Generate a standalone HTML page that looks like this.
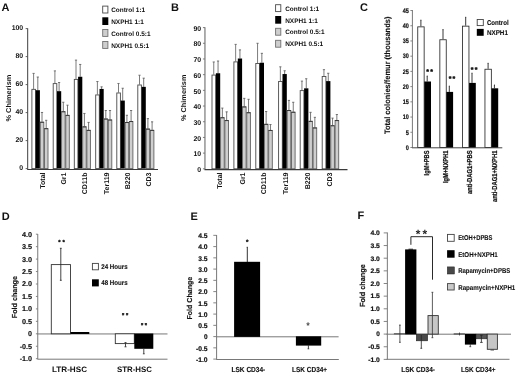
<!DOCTYPE html>
<html><head><meta charset="utf-8"><title>Figure</title>
<style>
html,body{margin:0;padding:0;background:#fff;}
body{width:520px;height:374px;overflow:hidden;font-family:"Liberation Sans",sans-serif;}
svg{display:block;will-change:transform;text-rendering:geometricPrecision;}
</style></head><body>
<svg width="520" height="374" viewBox="0 0 520 374" font-family="Liberation Sans, sans-serif">
<rect x="0" y="0" width="520" height="374" fill="#ffffff"/>
<line x1="33.6" y1="73.4" x2="33.6" y2="88.94" stroke="#5c5c5c" stroke-width="0.8"/>
<line x1="32.5" y1="73.4" x2="34.7" y2="73.4" stroke="#5c5c5c" stroke-width="0.8"/>
<rect x="31.90" y="89.34" width="3.60" height="79.26" fill="#fff" stroke="#4a4a4a" stroke-width="0.9"/>
<line x1="37.800000000000004" y1="77.03999999999999" x2="37.800000000000004" y2="90.2" stroke="#555" stroke-width="0.8"/>
<line x1="36.7" y1="77.03999999999999" x2="38.900000000000006" y2="77.03999999999999" stroke="#555" stroke-width="0.8"/>
<rect x="35.70" y="90.20" width="4.20" height="78.40" fill="#000"/>
<line x1="42.0" y1="112.46" x2="42.0" y2="121.84" stroke="#555" stroke-width="0.8"/>
<line x1="40.9" y1="112.46" x2="43.1" y2="112.46" stroke="#555" stroke-width="0.8"/>
<rect x="40.30" y="122.24" width="3.50" height="46.36" fill="#cfcfcf" stroke="#626262" stroke-width="0.9"/>
<line x1="40.1" y1="122.24000000000001" x2="43.9" y2="122.24000000000001" stroke="#333" stroke-width="0.9"/>
<line x1="46.2" y1="120.3" x2="46.2" y2="128.28" stroke="#555" stroke-width="0.8"/>
<line x1="45.1" y1="120.3" x2="47.300000000000004" y2="120.3" stroke="#555" stroke-width="0.8"/>
<rect x="44.50" y="128.68" width="3.50" height="39.92" fill="#cfcfcf" stroke="#626262" stroke-width="0.9"/>
<line x1="44.300000000000004" y1="128.68" x2="48.1" y2="128.68" stroke="#333" stroke-width="0.9"/>
<line x1="54.9" y1="70.88000000000001" x2="54.9" y2="83.2" stroke="#5c5c5c" stroke-width="0.8"/>
<line x1="53.8" y1="70.88000000000001" x2="56.0" y2="70.88000000000001" stroke="#5c5c5c" stroke-width="0.8"/>
<rect x="53.20" y="83.60" width="3.60" height="85.00" fill="#fff" stroke="#4a4a4a" stroke-width="0.9"/>
<line x1="59.1" y1="82.5" x2="59.1" y2="91.18" stroke="#555" stroke-width="0.8"/>
<line x1="58.0" y1="82.5" x2="60.2" y2="82.5" stroke="#555" stroke-width="0.8"/>
<rect x="57.00" y="91.18" width="4.20" height="77.42" fill="#000"/>
<line x1="63.3" y1="102.24" x2="63.3" y2="111.34" stroke="#555" stroke-width="0.8"/>
<line x1="62.199999999999996" y1="102.24" x2="64.39999999999999" y2="102.24" stroke="#555" stroke-width="0.8"/>
<rect x="61.60" y="111.74" width="3.50" height="56.86" fill="#cfcfcf" stroke="#626262" stroke-width="0.9"/>
<line x1="61.4" y1="111.74000000000001" x2="65.19999999999999" y2="111.74000000000001" stroke="#333" stroke-width="0.9"/>
<line x1="67.5" y1="105.18" x2="67.5" y2="114.98" stroke="#555" stroke-width="0.8"/>
<line x1="66.4" y1="105.18" x2="68.6" y2="105.18" stroke="#555" stroke-width="0.8"/>
<rect x="65.80" y="115.38" width="3.50" height="53.22" fill="#cfcfcf" stroke="#626262" stroke-width="0.9"/>
<line x1="65.60000000000001" y1="115.38000000000001" x2="69.4" y2="115.38000000000001" stroke="#333" stroke-width="0.9"/>
<line x1="76.0" y1="60.099999999999994" x2="76.0" y2="79.0" stroke="#5c5c5c" stroke-width="0.8"/>
<line x1="74.9" y1="60.099999999999994" x2="77.1" y2="60.099999999999994" stroke="#5c5c5c" stroke-width="0.8"/>
<rect x="74.30" y="79.40" width="3.60" height="89.20" fill="#fff" stroke="#4a4a4a" stroke-width="0.9"/>
<line x1="80.2" y1="64.44" x2="80.2" y2="76.76" stroke="#555" stroke-width="0.8"/>
<line x1="79.10000000000001" y1="64.44" x2="81.3" y2="64.44" stroke="#555" stroke-width="0.8"/>
<rect x="78.10" y="76.76" width="4.20" height="91.84" fill="#000"/>
<line x1="84.4" y1="113.44" x2="84.4" y2="126.46" stroke="#555" stroke-width="0.8"/>
<line x1="83.30000000000001" y1="113.44" x2="85.5" y2="113.44" stroke="#555" stroke-width="0.8"/>
<rect x="82.70" y="126.86" width="3.50" height="41.74" fill="#cfcfcf" stroke="#626262" stroke-width="0.9"/>
<line x1="82.50000000000001" y1="126.86" x2="86.30000000000001" y2="126.86" stroke="#333" stroke-width="0.9"/>
<line x1="88.6" y1="122.4" x2="88.6" y2="129.95999999999998" stroke="#555" stroke-width="0.8"/>
<line x1="87.5" y1="122.4" x2="89.69999999999999" y2="122.4" stroke="#555" stroke-width="0.8"/>
<rect x="86.90" y="130.36" width="3.50" height="38.24" fill="#cfcfcf" stroke="#626262" stroke-width="0.9"/>
<line x1="86.7" y1="130.35999999999999" x2="90.5" y2="130.35999999999999" stroke="#333" stroke-width="0.9"/>
<line x1="97.39999999999999" y1="81.52" x2="97.39999999999999" y2="94.54" stroke="#5c5c5c" stroke-width="0.8"/>
<line x1="96.3" y1="81.52" x2="98.49999999999999" y2="81.52" stroke="#5c5c5c" stroke-width="0.8"/>
<rect x="95.70" y="94.94" width="3.60" height="73.66" fill="#fff" stroke="#4a4a4a" stroke-width="0.9"/>
<line x1="101.6" y1="86.84" x2="101.6" y2="88.94" stroke="#555" stroke-width="0.8"/>
<line x1="100.5" y1="86.84" x2="102.69999999999999" y2="86.84" stroke="#555" stroke-width="0.8"/>
<rect x="99.50" y="88.94" width="4.20" height="79.66" fill="#000"/>
<line x1="105.8" y1="110.5" x2="105.8" y2="118.61999999999999" stroke="#555" stroke-width="0.8"/>
<line x1="104.7" y1="110.5" x2="106.89999999999999" y2="110.5" stroke="#555" stroke-width="0.8"/>
<rect x="104.10" y="119.02" width="3.50" height="49.58" fill="#cfcfcf" stroke="#626262" stroke-width="0.9"/>
<line x1="103.9" y1="119.02" x2="107.7" y2="119.02" stroke="#333" stroke-width="0.9"/>
<line x1="110.0" y1="110.5" x2="110.0" y2="119.6" stroke="#555" stroke-width="0.8"/>
<line x1="108.9" y1="110.5" x2="111.1" y2="110.5" stroke="#555" stroke-width="0.8"/>
<rect x="108.30" y="120.00" width="3.50" height="48.60" fill="#cfcfcf" stroke="#626262" stroke-width="0.9"/>
<line x1="108.10000000000001" y1="120.0" x2="111.9" y2="120.0" stroke="#333" stroke-width="0.9"/>
<line x1="118.5" y1="83.48" x2="118.5" y2="92.58" stroke="#5c5c5c" stroke-width="0.8"/>
<line x1="117.4" y1="83.48" x2="119.6" y2="83.48" stroke="#5c5c5c" stroke-width="0.8"/>
<rect x="116.80" y="92.98" width="3.60" height="75.62" fill="#fff" stroke="#4a4a4a" stroke-width="0.9"/>
<line x1="122.7" y1="88.24" x2="122.7" y2="100.56" stroke="#555" stroke-width="0.8"/>
<line x1="121.60000000000001" y1="88.24" x2="123.8" y2="88.24" stroke="#555" stroke-width="0.8"/>
<rect x="120.60" y="100.56" width="4.20" height="68.04" fill="#000"/>
<line x1="126.9" y1="115.25999999999999" x2="126.9" y2="122.11999999999999" stroke="#555" stroke-width="0.8"/>
<line x1="125.80000000000001" y1="115.25999999999999" x2="128.0" y2="115.25999999999999" stroke="#555" stroke-width="0.8"/>
<rect x="125.20" y="122.52" width="3.50" height="46.08" fill="#cfcfcf" stroke="#626262" stroke-width="0.9"/>
<line x1="125.00000000000001" y1="122.52" x2="128.8" y2="122.52" stroke="#333" stroke-width="0.9"/>
<line x1="131.1" y1="110.5" x2="131.1" y2="121.14" stroke="#555" stroke-width="0.8"/>
<line x1="130.0" y1="110.5" x2="132.2" y2="110.5" stroke="#555" stroke-width="0.8"/>
<rect x="129.40" y="121.54" width="3.50" height="47.06" fill="#cfcfcf" stroke="#626262" stroke-width="0.9"/>
<line x1="129.2" y1="121.54" x2="133.0" y2="121.54" stroke="#333" stroke-width="0.9"/>
<line x1="139.5" y1="75.22" x2="139.5" y2="84.6" stroke="#5c5c5c" stroke-width="0.8"/>
<line x1="138.4" y1="75.22" x2="140.6" y2="75.22" stroke="#5c5c5c" stroke-width="0.8"/>
<rect x="137.80" y="85.00" width="3.60" height="83.60" fill="#fff" stroke="#4a4a4a" stroke-width="0.9"/>
<line x1="143.7" y1="78.16000000000001" x2="143.7" y2="86.84" stroke="#555" stroke-width="0.8"/>
<line x1="142.6" y1="78.16000000000001" x2="144.79999999999998" y2="78.16000000000001" stroke="#555" stroke-width="0.8"/>
<rect x="141.60" y="86.84" width="4.20" height="81.76" fill="#000"/>
<line x1="147.9" y1="118.61999999999999" x2="147.9" y2="128.7" stroke="#555" stroke-width="0.8"/>
<line x1="146.8" y1="118.61999999999999" x2="149.0" y2="118.61999999999999" stroke="#555" stroke-width="0.8"/>
<rect x="146.20" y="129.10" width="3.50" height="39.50" fill="#cfcfcf" stroke="#626262" stroke-width="0.9"/>
<line x1="146.0" y1="129.1" x2="149.8" y2="129.1" stroke="#333" stroke-width="0.9"/>
<line x1="152.1" y1="121.84" x2="152.1" y2="129.95999999999998" stroke="#555" stroke-width="0.8"/>
<line x1="151.0" y1="121.84" x2="153.2" y2="121.84" stroke="#555" stroke-width="0.8"/>
<rect x="150.40" y="130.36" width="3.50" height="38.24" fill="#cfcfcf" stroke="#626262" stroke-width="0.9"/>
<line x1="150.2" y1="130.35999999999999" x2="154.0" y2="130.35999999999999" stroke="#333" stroke-width="0.9"/>
<line x1="27.65" y1="28.3" x2="27.65" y2="169.1" stroke="#505050" stroke-width="1.1"/>
<line x1="27.15" y1="169.5" x2="158" y2="169.5" stroke="#3a3a3a" stroke-width="1.2"/>
<line x1="25.65" y1="168.6" x2="27.65" y2="168.6" stroke="#505050" stroke-width="0.9"/>
<text x="23.2" y="170.29999999999998" font-size="6.9" font-weight="bold" text-anchor="end" fill="#111" >0</text>
<line x1="25.65" y1="140.6" x2="27.65" y2="140.6" stroke="#505050" stroke-width="0.9"/>
<text x="23.2" y="142.29999999999998" font-size="6.9" font-weight="bold" text-anchor="end" fill="#111" >20</text>
<line x1="25.65" y1="112.6" x2="27.65" y2="112.6" stroke="#505050" stroke-width="0.9"/>
<text x="23.2" y="114.3" font-size="6.9" font-weight="bold" text-anchor="end" fill="#111" >40</text>
<line x1="25.65" y1="84.6" x2="27.65" y2="84.6" stroke="#505050" stroke-width="0.9"/>
<text x="23.2" y="86.3" font-size="6.9" font-weight="bold" text-anchor="end" fill="#111" >60</text>
<line x1="25.65" y1="56.599999999999994" x2="27.65" y2="56.599999999999994" stroke="#505050" stroke-width="0.9"/>
<text x="23.2" y="58.3" font-size="6.9" font-weight="bold" text-anchor="end" fill="#111" >80</text>
<line x1="25.65" y1="28.599999999999994" x2="27.65" y2="28.599999999999994" stroke="#505050" stroke-width="0.9"/>
<text x="23.2" y="30.299999999999994" font-size="6.9" font-weight="bold" text-anchor="end" fill="#111" >100</text>
<text x="44.7" y="172.5" font-size="7" font-weight="bold" text-anchor="end" fill="#111" transform="rotate(-90 44.7 172.5)" >Total</text>
<text x="65.9" y="172.5" font-size="7" font-weight="bold" text-anchor="end" fill="#111" transform="rotate(-90 65.9 172.5)" >Gr1</text>
<text x="87.2" y="172.5" font-size="7" font-weight="bold" text-anchor="end" fill="#111" transform="rotate(-90 87.2 172.5)" >CD11b</text>
<text x="108.6" y="172.5" font-size="7" font-weight="bold" text-anchor="end" fill="#111" transform="rotate(-90 108.6 172.5)" >Ter119</text>
<text x="129.9" y="172.5" font-size="7" font-weight="bold" text-anchor="end" fill="#111" transform="rotate(-90 129.9 172.5)" >B220</text>
<text x="150.9" y="172.5" font-size="7" font-weight="bold" text-anchor="end" fill="#111" transform="rotate(-90 150.9 172.5)" >CD3</text>
<text x="11.0" y="121.6" font-size="7" font-weight="bold" text-anchor="start" fill="#111" textLength="47" lengthAdjust="spacingAndGlyphs" transform="rotate(-90 11.0 121.6)" >% Chimerism</text>
<line x1="213.75" y1="61.95866666666667" x2="213.75" y2="74.66666666666667" stroke="#5c5c5c" stroke-width="0.8"/>
<line x1="212.65" y1="61.95866666666667" x2="214.85" y2="61.95866666666667" stroke="#5c5c5c" stroke-width="0.8"/>
<rect x="212.00" y="75.07" width="3.70" height="93.73" fill="#fff" stroke="#4a4a4a" stroke-width="0.9"/>
<line x1="218.05" y1="61.017333333333326" x2="218.05" y2="73.25466666666668" stroke="#555" stroke-width="0.8"/>
<line x1="216.95000000000002" y1="61.017333333333326" x2="219.15" y2="61.017333333333326" stroke="#555" stroke-width="0.8"/>
<rect x="215.90" y="73.25" width="4.30" height="95.55" fill="#000"/>
<line x1="222.35" y1="108.084" x2="222.35" y2="117.34044444444446" stroke="#555" stroke-width="0.8"/>
<line x1="221.25" y1="108.084" x2="223.45" y2="108.084" stroke="#555" stroke-width="0.8"/>
<rect x="220.60" y="117.74" width="3.60" height="51.06" fill="#cfcfcf" stroke="#626262" stroke-width="0.9"/>
<line x1="220.39999999999998" y1="117.74044444444446" x2="224.3" y2="117.74044444444446" stroke="#333" stroke-width="0.9"/>
<line x1="226.65" y1="111.84933333333335" x2="226.65" y2="120.16444444444446" stroke="#555" stroke-width="0.8"/>
<line x1="225.55" y1="111.84933333333335" x2="227.75" y2="111.84933333333335" stroke="#555" stroke-width="0.8"/>
<rect x="224.90" y="120.56" width="3.60" height="48.24" fill="#cfcfcf" stroke="#626262" stroke-width="0.9"/>
<line x1="224.7" y1="120.56444444444446" x2="228.60000000000002" y2="120.56444444444446" stroke="#333" stroke-width="0.9"/>
<line x1="235.65" y1="44.387111111111125" x2="235.65" y2="61.488" stroke="#5c5c5c" stroke-width="0.8"/>
<line x1="234.55" y1="44.387111111111125" x2="236.75" y2="44.387111111111125" stroke="#5c5c5c" stroke-width="0.8"/>
<rect x="233.90" y="61.89" width="3.70" height="106.91" fill="#fff" stroke="#4a4a4a" stroke-width="0.9"/>
<line x1="239.95000000000002" y1="49.878222222222234" x2="239.95000000000002" y2="58.507111111111115" stroke="#555" stroke-width="0.8"/>
<line x1="238.85000000000002" y1="49.878222222222234" x2="241.05" y2="49.878222222222234" stroke="#555" stroke-width="0.8"/>
<rect x="237.80" y="58.51" width="4.30" height="110.29" fill="#000"/>
<line x1="244.25" y1="98.3568888888889" x2="244.25" y2="106.51511111111111" stroke="#555" stroke-width="0.8"/>
<line x1="243.15" y1="98.3568888888889" x2="245.35" y2="98.3568888888889" stroke="#555" stroke-width="0.8"/>
<rect x="242.50" y="106.92" width="3.60" height="61.88" fill="#cfcfcf" stroke="#626262" stroke-width="0.9"/>
<line x1="242.29999999999998" y1="106.91511111111112" x2="246.20000000000002" y2="106.91511111111112" stroke="#333" stroke-width="0.9"/>
<line x1="248.55" y1="99.29822222222224" x2="248.55" y2="112.32000000000001" stroke="#555" stroke-width="0.8"/>
<line x1="247.45000000000002" y1="99.29822222222224" x2="249.65" y2="99.29822222222224" stroke="#555" stroke-width="0.8"/>
<rect x="246.80" y="112.72" width="3.60" height="56.08" fill="#cfcfcf" stroke="#626262" stroke-width="0.9"/>
<line x1="246.6" y1="112.72000000000001" x2="250.50000000000003" y2="112.72000000000001" stroke="#333" stroke-width="0.9"/>
<line x1="257.55" y1="43.28888888888889" x2="257.55" y2="63.05688888888888" stroke="#5c5c5c" stroke-width="0.8"/>
<line x1="256.45" y1="43.28888888888889" x2="258.65000000000003" y2="43.28888888888889" stroke="#5c5c5c" stroke-width="0.8"/>
<rect x="255.80" y="63.46" width="3.70" height="105.34" fill="#fff" stroke="#4a4a4a" stroke-width="0.9"/>
<line x1="261.84999999999997" y1="53.32977777777779" x2="261.84999999999997" y2="62.74311111111112" stroke="#555" stroke-width="0.8"/>
<line x1="260.74999999999994" y1="53.32977777777779" x2="262.95" y2="53.32977777777779" stroke="#555" stroke-width="0.8"/>
<rect x="259.70" y="62.74" width="4.30" height="106.06" fill="#000"/>
<line x1="266.15" y1="111.53555555555556" x2="266.15" y2="123.92977777777779" stroke="#555" stroke-width="0.8"/>
<line x1="265.04999999999995" y1="111.53555555555556" x2="267.25" y2="111.53555555555556" stroke="#555" stroke-width="0.8"/>
<rect x="264.40" y="124.33" width="3.60" height="44.47" fill="#cfcfcf" stroke="#626262" stroke-width="0.9"/>
<line x1="264.2" y1="124.32977777777779" x2="268.1" y2="124.32977777777779" stroke="#333" stroke-width="0.9"/>
<line x1="270.45" y1="124.55733333333333" x2="270.45" y2="130.04844444444444" stroke="#555" stroke-width="0.8"/>
<line x1="269.34999999999997" y1="124.55733333333333" x2="271.55" y2="124.55733333333333" stroke="#555" stroke-width="0.8"/>
<rect x="268.70" y="130.45" width="3.60" height="38.35" fill="#cfcfcf" stroke="#626262" stroke-width="0.9"/>
<line x1="268.5" y1="130.44844444444445" x2="272.40000000000003" y2="130.44844444444445" stroke="#333" stroke-width="0.9"/>
<line x1="280.34999999999997" y1="66.82222222222222" x2="280.34999999999997" y2="81.09911111111111" stroke="#5c5c5c" stroke-width="0.8"/>
<line x1="279.24999999999994" y1="66.82222222222222" x2="281.45" y2="66.82222222222222" stroke="#5c5c5c" stroke-width="0.8"/>
<rect x="278.60" y="81.50" width="3.70" height="87.30" fill="#fff" stroke="#4a4a4a" stroke-width="0.9"/>
<line x1="284.65" y1="70.74444444444445" x2="284.65" y2="74.03911111111111" stroke="#555" stroke-width="0.8"/>
<line x1="283.54999999999995" y1="70.74444444444445" x2="285.75" y2="70.74444444444445" stroke="#555" stroke-width="0.8"/>
<rect x="282.50" y="74.04" width="4.30" height="94.76" fill="#000"/>
<line x1="288.95" y1="100.39644444444446" x2="288.95" y2="110.12355555555555" stroke="#555" stroke-width="0.8"/>
<line x1="287.84999999999997" y1="100.39644444444446" x2="290.05" y2="100.39644444444446" stroke="#555" stroke-width="0.8"/>
<rect x="287.20" y="110.52" width="3.60" height="58.28" fill="#cfcfcf" stroke="#626262" stroke-width="0.9"/>
<line x1="287.0" y1="110.52355555555556" x2="290.90000000000003" y2="110.52355555555556" stroke="#333" stroke-width="0.9"/>
<line x1="293.24999999999994" y1="102.27911111111112" x2="293.24999999999994" y2="111.84933333333335" stroke="#555" stroke-width="0.8"/>
<line x1="292.1499999999999" y1="102.27911111111112" x2="294.34999999999997" y2="102.27911111111112" stroke="#555" stroke-width="0.8"/>
<rect x="291.50" y="112.25" width="3.60" height="56.55" fill="#cfcfcf" stroke="#626262" stroke-width="0.9"/>
<line x1="291.29999999999995" y1="112.24933333333335" x2="295.2" y2="112.24933333333335" stroke="#333" stroke-width="0.9"/>
<line x1="301.95" y1="81.09911111111111" x2="301.95" y2="90.19866666666667" stroke="#5c5c5c" stroke-width="0.8"/>
<line x1="300.84999999999997" y1="81.09911111111111" x2="303.05" y2="81.09911111111111" stroke="#5c5c5c" stroke-width="0.8"/>
<rect x="300.20" y="90.60" width="3.70" height="78.20" fill="#fff" stroke="#4a4a4a" stroke-width="0.9"/>
<line x1="306.25" y1="78.74577777777779" x2="306.25" y2="88.31600000000002" stroke="#555" stroke-width="0.8"/>
<line x1="305.15" y1="78.74577777777779" x2="307.35" y2="78.74577777777779" stroke="#555" stroke-width="0.8"/>
<rect x="304.10" y="88.32" width="4.30" height="80.48" fill="#000"/>
<line x1="310.55" y1="112.32000000000001" x2="310.55" y2="120.94888888888889" stroke="#555" stroke-width="0.8"/>
<line x1="309.45" y1="112.32000000000001" x2="311.65000000000003" y2="112.32000000000001" stroke="#555" stroke-width="0.8"/>
<rect x="308.80" y="121.35" width="3.60" height="47.45" fill="#cfcfcf" stroke="#626262" stroke-width="0.9"/>
<line x1="308.6" y1="121.3488888888889" x2="312.50000000000006" y2="121.3488888888889" stroke="#333" stroke-width="0.9"/>
<line x1="314.84999999999997" y1="117.34044444444446" x2="314.84999999999997" y2="127.53822222222223" stroke="#555" stroke-width="0.8"/>
<line x1="313.74999999999994" y1="117.34044444444446" x2="315.95" y2="117.34044444444446" stroke="#555" stroke-width="0.8"/>
<rect x="313.10" y="127.94" width="3.60" height="40.86" fill="#cfcfcf" stroke="#626262" stroke-width="0.9"/>
<line x1="312.9" y1="127.93822222222224" x2="316.8" y2="127.93822222222224" stroke="#333" stroke-width="0.9"/>
<line x1="323.95" y1="69.64622222222222" x2="323.95" y2="76.07866666666666" stroke="#5c5c5c" stroke-width="0.8"/>
<line x1="322.84999999999997" y1="69.64622222222222" x2="325.05" y2="69.64622222222222" stroke="#5c5c5c" stroke-width="0.8"/>
<rect x="322.20" y="76.48" width="3.70" height="92.32" fill="#fff" stroke="#4a4a4a" stroke-width="0.9"/>
<line x1="328.25" y1="73.25466666666668" x2="328.25" y2="81.09911111111111" stroke="#555" stroke-width="0.8"/>
<line x1="327.15" y1="73.25466666666668" x2="329.35" y2="73.25466666666668" stroke="#555" stroke-width="0.8"/>
<rect x="326.10" y="81.10" width="4.30" height="87.70" fill="#000"/>
<line x1="332.55" y1="118.1248888888889" x2="332.55" y2="125.34177777777779" stroke="#555" stroke-width="0.8"/>
<line x1="331.45" y1="118.1248888888889" x2="333.65000000000003" y2="118.1248888888889" stroke="#555" stroke-width="0.8"/>
<rect x="330.80" y="125.74" width="3.60" height="43.06" fill="#cfcfcf" stroke="#626262" stroke-width="0.9"/>
<line x1="330.6" y1="125.7417777777778" x2="334.50000000000006" y2="125.7417777777778" stroke="#333" stroke-width="0.9"/>
<line x1="336.84999999999997" y1="114.51644444444446" x2="336.84999999999997" y2="120.16444444444446" stroke="#555" stroke-width="0.8"/>
<line x1="335.74999999999994" y1="114.51644444444446" x2="337.95" y2="114.51644444444446" stroke="#555" stroke-width="0.8"/>
<rect x="335.10" y="120.56" width="3.60" height="48.24" fill="#cfcfcf" stroke="#626262" stroke-width="0.9"/>
<line x1="334.9" y1="120.56444444444446" x2="338.8" y2="120.56444444444446" stroke="#333" stroke-width="0.9"/>
<line x1="204.95" y1="27.3" x2="204.95" y2="169.3" stroke="#727272" stroke-width="1.15"/>
<line x1="204.45" y1="169.70000000000002" x2="347.5" y2="169.70000000000002" stroke="#3a3a3a" stroke-width="1.2"/>
<line x1="202.95" y1="168.8" x2="204.95" y2="168.8" stroke="#727272" stroke-width="0.9"/>
<text x="201.2" y="171.95000000000002" font-size="6.9" font-weight="bold" text-anchor="end" fill="#111" >0</text>
<line x1="202.95" y1="153.11111111111111" x2="204.95" y2="153.11111111111111" stroke="#727272" stroke-width="0.9"/>
<text x="201.2" y="156.26111111111112" font-size="6.9" font-weight="bold" text-anchor="end" fill="#111" >10</text>
<line x1="202.95" y1="137.42222222222222" x2="204.95" y2="137.42222222222222" stroke="#727272" stroke-width="0.9"/>
<text x="201.2" y="140.57222222222222" font-size="6.9" font-weight="bold" text-anchor="end" fill="#111" >20</text>
<line x1="202.95" y1="121.73333333333335" x2="204.95" y2="121.73333333333335" stroke="#727272" stroke-width="0.9"/>
<text x="201.2" y="124.88333333333335" font-size="6.9" font-weight="bold" text-anchor="end" fill="#111" >30</text>
<line x1="202.95" y1="106.04444444444445" x2="204.95" y2="106.04444444444445" stroke="#727272" stroke-width="0.9"/>
<text x="201.2" y="109.19444444444446" font-size="6.9" font-weight="bold" text-anchor="end" fill="#111" >40</text>
<line x1="202.95" y1="90.35555555555555" x2="204.95" y2="90.35555555555555" stroke="#727272" stroke-width="0.9"/>
<text x="201.2" y="93.50555555555556" font-size="6.9" font-weight="bold" text-anchor="end" fill="#111" >50</text>
<line x1="202.95" y1="74.66666666666667" x2="204.95" y2="74.66666666666667" stroke="#727272" stroke-width="0.9"/>
<text x="201.2" y="77.81666666666668" font-size="6.9" font-weight="bold" text-anchor="end" fill="#111" >60</text>
<line x1="202.95" y1="58.97777777777779" x2="204.95" y2="58.97777777777779" stroke="#727272" stroke-width="0.9"/>
<text x="201.2" y="62.12777777777779" font-size="6.9" font-weight="bold" text-anchor="end" fill="#111" >70</text>
<line x1="202.95" y1="43.28888888888889" x2="204.95" y2="43.28888888888889" stroke="#727272" stroke-width="0.9"/>
<text x="201.2" y="46.43888888888889" font-size="6.9" font-weight="bold" text-anchor="end" fill="#111" >80</text>
<line x1="202.95" y1="27.599999999999994" x2="204.95" y2="27.599999999999994" stroke="#727272" stroke-width="0.9"/>
<text x="201.2" y="30.749999999999993" font-size="6.9" font-weight="bold" text-anchor="end" fill="#111" >90</text>
<text x="222.0" y="172.5" font-size="7" font-weight="bold" text-anchor="end" fill="#111" transform="rotate(-90 222.0 172.5)" >Total</text>
<text x="245.0" y="172.5" font-size="7" font-weight="bold" text-anchor="end" fill="#111" transform="rotate(-90 245.0 172.5)" >Gr1</text>
<text x="265.8" y="172.5" font-size="7" font-weight="bold" text-anchor="end" fill="#111" transform="rotate(-90 265.8 172.5)" >CD11b</text>
<text x="287.6" y="172.5" font-size="7" font-weight="bold" text-anchor="end" fill="#111" transform="rotate(-90 287.6 172.5)" >Ter119</text>
<text x="310.2" y="172.5" font-size="7" font-weight="bold" text-anchor="end" fill="#111" transform="rotate(-90 310.2 172.5)" >B220</text>
<text x="332.4" y="172.5" font-size="7" font-weight="bold" text-anchor="end" fill="#111" transform="rotate(-90 332.4 172.5)" >CD3</text>
<text x="186.4" y="121.0" font-size="7" font-weight="bold" text-anchor="start" fill="#111" textLength="46.5" lengthAdjust="spacingAndGlyphs" transform="rotate(-90 186.4 121.0)" >% Chimerism</text>
<rect x="102.70" y="6.10" width="5.20" height="6.90" fill="#fff" stroke="#4a4a4a" stroke-width="0.9"/>
<text x="111.2" y="12.2" font-size="6.45" font-weight="bold" text-anchor="start" fill="#111" textLength="34.0" lengthAdjust="spacingAndGlyphs" >Control 1:1</text>
<rect x="102.30" y="17.30" width="6.00" height="7.70" fill="#000"/>
<text x="111.2" y="23.8" font-size="6.45" font-weight="bold" text-anchor="start" fill="#111" textLength="32.6" lengthAdjust="spacingAndGlyphs" >NXPH1 1:1</text>
<rect x="102.70" y="29.50" width="5.20" height="6.90" fill="#cecece" stroke="#707070" stroke-width="0.9"/>
<text x="111.2" y="35.6" font-size="6.45" font-weight="bold" text-anchor="start" fill="#111" textLength="39.3" lengthAdjust="spacingAndGlyphs" >Control 0.5:1</text>
<rect x="102.70" y="41.50" width="5.20" height="6.90" fill="#cecece" stroke="#707070" stroke-width="0.9"/>
<text x="111.2" y="47.6" font-size="6.45" font-weight="bold" text-anchor="start" fill="#111" textLength="38.0" lengthAdjust="spacingAndGlyphs" >NXPH1 0.5:1</text>
<rect x="275.60" y="4.70" width="5.20" height="6.90" fill="#fff" stroke="#4a4a4a" stroke-width="0.9"/>
<text x="285.2" y="10.8" font-size="6.45" font-weight="bold" text-anchor="start" fill="#111" textLength="34.0" lengthAdjust="spacingAndGlyphs" >Control 1:1</text>
<rect x="275.20" y="16.00" width="6.00" height="7.70" fill="#000"/>
<text x="285.2" y="22.5" font-size="6.45" font-weight="bold" text-anchor="start" fill="#111" textLength="32.6" lengthAdjust="spacingAndGlyphs" >NXPH1 1:1</text>
<rect x="275.60" y="28.30" width="5.20" height="6.90" fill="#cecece" stroke="#707070" stroke-width="0.9"/>
<text x="285.2" y="34.4" font-size="6.45" font-weight="bold" text-anchor="start" fill="#111" textLength="39.3" lengthAdjust="spacingAndGlyphs" >Control 0.5:1</text>
<rect x="275.60" y="40.30" width="5.20" height="6.90" fill="#cecece" stroke="#707070" stroke-width="0.9"/>
<text x="285.2" y="46.400000000000006" font-size="6.45" font-weight="bold" text-anchor="start" fill="#111" textLength="38.0" lengthAdjust="spacingAndGlyphs" >NXPH1 0.5:1</text>
<text x="1.6" y="11.3" font-size="11" font-weight="bold" text-anchor="start" fill="#111" >A</text>
<text x="170.9" y="11.2" font-size="11" font-weight="bold" text-anchor="start" fill="#111" >B</text>
<text x="360.1" y="10.9" font-size="11" font-weight="bold" text-anchor="start" fill="#111" >C</text>
<text x="1.8" y="219.5" font-size="11" font-weight="bold" text-anchor="start" fill="#111" >D</text>
<text x="190.6" y="219.5" font-size="11" font-weight="bold" text-anchor="start" fill="#111" >E</text>
<text x="357.4" y="219.2" font-size="11" font-weight="bold" text-anchor="start" fill="#111" >F</text>
<line x1="412.4" y1="10" x2="412.4" y2="147.9" stroke="#787878" stroke-width="1.0"/>
<line x1="412" y1="147.8" x2="502.3" y2="147.8" stroke="#444" stroke-width="1.0"/>
<line x1="410.4" y1="147.5" x2="412.4" y2="147.5" stroke="#787878" stroke-width="0.9"/>
<text x="408.8" y="149.8" font-size="6.6" font-weight="bold" text-anchor="end" fill="#111" textLength="3.1" lengthAdjust="spacingAndGlyphs" stroke="#111" stroke-width="0.2" >0</text>
<line x1="410.4" y1="132.28" x2="412.4" y2="132.28" stroke="#787878" stroke-width="0.9"/>
<text x="408.8" y="134.58" font-size="6.6" font-weight="bold" text-anchor="end" fill="#111" textLength="3.1" lengthAdjust="spacingAndGlyphs" stroke="#111" stroke-width="0.2" >5</text>
<line x1="410.4" y1="117.06" x2="412.4" y2="117.06" stroke="#787878" stroke-width="0.9"/>
<text x="408.8" y="119.36" font-size="6.6" font-weight="bold" text-anchor="end" fill="#111" textLength="6.1" lengthAdjust="spacingAndGlyphs" stroke="#111" stroke-width="0.2" >10</text>
<line x1="410.4" y1="101.84" x2="412.4" y2="101.84" stroke="#787878" stroke-width="0.9"/>
<text x="408.8" y="104.14" font-size="6.6" font-weight="bold" text-anchor="end" fill="#111" textLength="6.1" lengthAdjust="spacingAndGlyphs" stroke="#111" stroke-width="0.2" >15</text>
<line x1="410.4" y1="86.62" x2="412.4" y2="86.62" stroke="#787878" stroke-width="0.9"/>
<text x="408.8" y="88.92" font-size="6.6" font-weight="bold" text-anchor="end" fill="#111" textLength="6.1" lengthAdjust="spacingAndGlyphs" stroke="#111" stroke-width="0.2" >20</text>
<line x1="410.4" y1="71.4" x2="412.4" y2="71.4" stroke="#787878" stroke-width="0.9"/>
<text x="408.8" y="73.7" font-size="6.6" font-weight="bold" text-anchor="end" fill="#111" textLength="6.1" lengthAdjust="spacingAndGlyphs" stroke="#111" stroke-width="0.2" >25</text>
<line x1="410.4" y1="56.17999999999999" x2="412.4" y2="56.17999999999999" stroke="#787878" stroke-width="0.9"/>
<text x="408.8" y="58.47999999999999" font-size="6.6" font-weight="bold" text-anchor="end" fill="#111" textLength="6.1" lengthAdjust="spacingAndGlyphs" stroke="#111" stroke-width="0.2" >30</text>
<line x1="410.4" y1="40.959999999999994" x2="412.4" y2="40.959999999999994" stroke="#787878" stroke-width="0.9"/>
<text x="408.8" y="43.25999999999999" font-size="6.6" font-weight="bold" text-anchor="end" fill="#111" textLength="6.1" lengthAdjust="spacingAndGlyphs" stroke="#111" stroke-width="0.2" >35</text>
<line x1="410.4" y1="25.739999999999995" x2="412.4" y2="25.739999999999995" stroke="#787878" stroke-width="0.9"/>
<text x="408.8" y="28.039999999999996" font-size="6.6" font-weight="bold" text-anchor="end" fill="#111" textLength="6.1" lengthAdjust="spacingAndGlyphs" stroke="#111" stroke-width="0.2" >40</text>
<line x1="410.4" y1="10.52000000000001" x2="412.4" y2="10.52000000000001" stroke="#787878" stroke-width="0.9"/>
<text x="408.8" y="12.820000000000011" font-size="6.6" font-weight="bold" text-anchor="end" fill="#111" textLength="6.1" lengthAdjust="spacingAndGlyphs" stroke="#111" stroke-width="0.2" >45</text>
<line x1="420.90000000000003" y1="20.2" x2="420.90000000000003" y2="26.4" stroke="#222" stroke-width="0.9"/>
<line x1="420.40000000000003" y1="20.2" x2="421.40000000000003" y2="20.2" stroke="#222" stroke-width="0.9"/>
<rect x="417.75" y="26.85" width="6.40" height="120.65" fill="#fff" stroke="#2a2a2a" stroke-width="0.85"/>
<line x1="427.2" y1="76.0" x2="427.2" y2="81.5" stroke="#222" stroke-width="0.9"/>
<line x1="426.8" y1="76.0" x2="427.59999999999997" y2="76.0" stroke="#222" stroke-width="0.9"/>
<rect x="424.30" y="81.50" width="6.70" height="66.00" fill="#000"/>
<text x="427.70" y="73.98" font-size="7.03" font-weight="bold" text-anchor="middle" fill="#111" stroke="#111" stroke-width="0.35">*</text>
<text x="431.50" y="73.98" font-size="7.03" font-weight="bold" text-anchor="middle" fill="#111" stroke="#111" stroke-width="0.35">*</text>
<line x1="443.0" y1="29.6" x2="443.0" y2="39.3" stroke="#222" stroke-width="0.9"/>
<line x1="442.5" y1="29.6" x2="443.5" y2="29.6" stroke="#222" stroke-width="0.9"/>
<rect x="439.85" y="39.75" width="6.40" height="107.75" fill="#fff" stroke="#2a2a2a" stroke-width="0.85"/>
<line x1="449.29999999999995" y1="86.1" x2="449.29999999999995" y2="91.9" stroke="#222" stroke-width="0.9"/>
<line x1="448.9" y1="86.1" x2="449.69999999999993" y2="86.1" stroke="#222" stroke-width="0.9"/>
<rect x="446.40" y="91.90" width="6.70" height="55.60" fill="#000"/>
<text x="450.00" y="80.88" font-size="7.03" font-weight="bold" text-anchor="middle" fill="#111" stroke="#111" stroke-width="0.35">*</text>
<text x="453.80" y="80.88" font-size="7.03" font-weight="bold" text-anchor="middle" fill="#111" stroke="#111" stroke-width="0.35">*</text>
<line x1="465.70000000000005" y1="17.3" x2="465.70000000000005" y2="25.7" stroke="#222" stroke-width="0.9"/>
<line x1="465.20000000000005" y1="17.3" x2="466.20000000000005" y2="17.3" stroke="#222" stroke-width="0.9"/>
<rect x="462.55" y="26.15" width="6.40" height="121.35" fill="#fff" stroke="#2a2a2a" stroke-width="0.85"/>
<line x1="472.0" y1="73.1" x2="472.0" y2="82.9" stroke="#222" stroke-width="0.9"/>
<line x1="471.6" y1="73.1" x2="472.4" y2="73.1" stroke="#222" stroke-width="0.9"/>
<rect x="469.10" y="82.90" width="6.70" height="64.60" fill="#000"/>
<text x="472.10" y="71.98" font-size="7.03" font-weight="bold" text-anchor="middle" fill="#111" stroke="#111" stroke-width="0.35">*</text>
<text x="476.20" y="71.98" font-size="7.03" font-weight="bold" text-anchor="middle" fill="#111" stroke="#111" stroke-width="0.35">*</text>
<line x1="488.1" y1="63.3" x2="488.1" y2="68.8" stroke="#222" stroke-width="0.9"/>
<line x1="487.6" y1="63.3" x2="488.6" y2="63.3" stroke="#222" stroke-width="0.9"/>
<rect x="484.95" y="69.25" width="6.40" height="78.25" fill="#fff" stroke="#2a2a2a" stroke-width="0.85"/>
<line x1="494.4" y1="85.0" x2="494.4" y2="88.3" stroke="#222" stroke-width="0.9"/>
<line x1="494.0" y1="85.0" x2="494.79999999999995" y2="85.0" stroke="#222" stroke-width="0.9"/>
<rect x="491.50" y="88.30" width="6.70" height="59.20" fill="#000"/>
<text x="429.0" y="150.5" font-size="7.2" font-weight="bold" text-anchor="end" fill="#111" textLength="24.9" lengthAdjust="spacingAndGlyphs" transform="rotate(-90 429.0 150.5)" stroke="#111" stroke-width="0.25" >IgM+PBS</text>
<text x="447.9" y="150.5" font-size="7.2" font-weight="bold" text-anchor="end" fill="#111" textLength="32.5" lengthAdjust="spacingAndGlyphs" transform="rotate(-90 447.9 150.5)" stroke="#111" stroke-width="0.25" >IgM+NXPH1</text>
<text x="472.2" y="150.5" font-size="7.2" font-weight="bold" text-anchor="end" fill="#111" textLength="43.6" lengthAdjust="spacingAndGlyphs" transform="rotate(-90 472.2 150.5)" stroke="#111" stroke-width="0.25" >anti-DAG1+PBS</text>
<text x="497.2" y="150.5" font-size="7.2" font-weight="bold" text-anchor="end" fill="#111" textLength="51.6" lengthAdjust="spacingAndGlyphs" transform="rotate(-90 497.2 150.5)" stroke="#111" stroke-width="0.25" >anti-DAG1+NXPH1</text>
<text x="390.2" y="134" font-size="7.9" font-weight="bold" text-anchor="start" fill="#111" textLength="117.4" lengthAdjust="spacingAndGlyphs" transform="rotate(-90 390.2 134)" stroke="#111" stroke-width="0.12" >Total colonies/femur (thousands)</text>
<rect x="477.20" y="19.50" width="6.10" height="6.10" fill="#fff" stroke="#444" stroke-width="0.9"/>
<rect x="476.80" y="28.90" width="6.90" height="6.90" fill="#000"/>
<text x="486.9" y="25.3" font-size="7.0" font-weight="bold" text-anchor="start" fill="#111" textLength="21.7" lengthAdjust="spacingAndGlyphs" stroke="#111" stroke-width="0.12" >Control</text>
<text x="486.9" y="34.9" font-size="7.0" font-weight="bold" text-anchor="start" fill="#111" textLength="21.0" lengthAdjust="spacingAndGlyphs" stroke="#111" stroke-width="0.12" >NXPH1</text>
<line x1="37.75" y1="234" x2="37.75" y2="359.2" stroke="#787878" stroke-width="1.0"/>
<line x1="37.5" y1="333.95" x2="167.5" y2="333.95" stroke="#787878" stroke-width="1.0"/>
<line x1="37.5" y1="359.2" x2="167.5" y2="359.2" stroke="#787878" stroke-width="1.0"/>
<line x1="35.9" y1="358.7" x2="37.75" y2="358.7" stroke="#787878" stroke-width="0.9"/>
<text x="32.1" y="361.15" font-size="7.0" font-weight="bold" text-anchor="end" fill="#111" textLength="12.4" lengthAdjust="spacingAndGlyphs" stroke="#111" stroke-width="0.15" >-1.0</text>
<line x1="35.9" y1="346.25" x2="37.75" y2="346.25" stroke="#787878" stroke-width="0.9"/>
<text x="32.1" y="348.7" font-size="7.0" font-weight="bold" text-anchor="end" fill="#111" textLength="12.4" lengthAdjust="spacingAndGlyphs" stroke="#111" stroke-width="0.15" >-0.5</text>
<line x1="35.9" y1="333.8" x2="37.75" y2="333.8" stroke="#787878" stroke-width="0.9"/>
<text x="32.1" y="336.25" font-size="7.0" font-weight="bold" text-anchor="end" fill="#111" textLength="4.0" lengthAdjust="spacingAndGlyphs" stroke="#111" stroke-width="0.15" >0</text>
<line x1="35.9" y1="321.35" x2="37.75" y2="321.35" stroke="#787878" stroke-width="0.9"/>
<text x="32.1" y="323.8" font-size="7.0" font-weight="bold" text-anchor="end" fill="#111" textLength="10.1" lengthAdjust="spacingAndGlyphs" stroke="#111" stroke-width="0.15" >0.5</text>
<line x1="35.9" y1="308.90000000000003" x2="37.75" y2="308.90000000000003" stroke="#787878" stroke-width="0.9"/>
<text x="32.1" y="311.35" font-size="7.0" font-weight="bold" text-anchor="end" fill="#111" textLength="10.1" lengthAdjust="spacingAndGlyphs" stroke="#111" stroke-width="0.15" >1.0</text>
<line x1="35.9" y1="296.45000000000005" x2="37.75" y2="296.45000000000005" stroke="#787878" stroke-width="0.9"/>
<text x="32.1" y="298.90000000000003" font-size="7.0" font-weight="bold" text-anchor="end" fill="#111" textLength="10.1" lengthAdjust="spacingAndGlyphs" stroke="#111" stroke-width="0.15" >1.5</text>
<line x1="35.9" y1="284.0" x2="37.75" y2="284.0" stroke="#787878" stroke-width="0.9"/>
<text x="32.1" y="286.45" font-size="7.0" font-weight="bold" text-anchor="end" fill="#111" textLength="10.1" lengthAdjust="spacingAndGlyphs" stroke="#111" stroke-width="0.15" >2.0</text>
<line x1="35.9" y1="271.55" x2="37.75" y2="271.55" stroke="#787878" stroke-width="0.9"/>
<text x="32.1" y="274.0" font-size="7.0" font-weight="bold" text-anchor="end" fill="#111" textLength="10.1" lengthAdjust="spacingAndGlyphs" stroke="#111" stroke-width="0.15" >2.5</text>
<line x1="35.9" y1="259.1" x2="37.75" y2="259.1" stroke="#787878" stroke-width="0.9"/>
<text x="32.1" y="261.55" font-size="7.0" font-weight="bold" text-anchor="end" fill="#111" textLength="10.1" lengthAdjust="spacingAndGlyphs" stroke="#111" stroke-width="0.15" >3.0</text>
<line x1="35.9" y1="246.65000000000003" x2="37.75" y2="246.65000000000003" stroke="#787878" stroke-width="0.9"/>
<text x="32.1" y="249.10000000000002" font-size="7.0" font-weight="bold" text-anchor="end" fill="#111" textLength="10.1" lengthAdjust="spacingAndGlyphs" stroke="#111" stroke-width="0.15" >3.5</text>
<line x1="35.9" y1="234.20000000000002" x2="37.75" y2="234.20000000000002" stroke="#787878" stroke-width="0.9"/>
<text x="32.1" y="236.65" font-size="7.0" font-weight="bold" text-anchor="end" fill="#111" textLength="10.1" lengthAdjust="spacingAndGlyphs" stroke="#111" stroke-width="0.15" >4.0</text>
<rect x="51.30" y="264.60" width="19.20" height="69.20" fill="#fff" stroke="#333" stroke-width="0.9"/>
<line x1="60.8" y1="248.3" x2="60.8" y2="280.3" stroke="#222" stroke-width="0.85"/>
<line x1="59.9" y1="248.3" x2="61.699999999999996" y2="248.3" stroke="#222" stroke-width="0.85"/>
<line x1="59.9" y1="280.3" x2="61.699999999999996" y2="280.3" stroke="#222" stroke-width="0.85"/>
<rect x="70.50" y="332.00" width="18.80" height="2.00" fill="#000"/>
<rect x="115.30" y="333.80" width="19.00" height="9.80" fill="#fff" stroke="#333" stroke-width="0.9"/>
<line x1="125.5" y1="346.8" x2="125.5" y2="342.6" stroke="#333" stroke-width="0.9"/>
<line x1="124.5" y1="346.8" x2="126.5" y2="346.8" stroke="#333" stroke-width="0.9"/>
<line x1="124.5" y1="342.6" x2="126.5" y2="342.6" stroke="#333" stroke-width="0.9"/>
<rect x="134.30" y="333.50" width="19.00" height="15.30" fill="#000"/>
<line x1="143.8" y1="353.8" x2="143.8" y2="348" stroke="#333" stroke-width="0.9"/>
<line x1="142.9" y1="353.8" x2="144.70000000000002" y2="353.8" stroke="#333" stroke-width="0.9"/>
<text x="59.50" y="244.23" font-size="5.95" font-weight="bold" text-anchor="middle" fill="#111" stroke="#111" stroke-width="0.35">*</text>
<text x="63.60" y="244.23" font-size="5.95" font-weight="bold" text-anchor="middle" fill="#111" stroke="#111" stroke-width="0.35">*</text>
<text x="123.20" y="316.59" font-size="5.68" font-weight="bold" text-anchor="middle" fill="#111" stroke="#111" stroke-width="0.35">*</text>
<text x="127.05" y="316.59" font-size="5.68" font-weight="bold" text-anchor="middle" fill="#111" stroke="#111" stroke-width="0.35">*</text>
<text x="142.00" y="327.39" font-size="5.68" font-weight="bold" text-anchor="middle" fill="#111" stroke="#111" stroke-width="0.35">*</text>
<text x="145.80" y="327.39" font-size="5.68" font-weight="bold" text-anchor="middle" fill="#111" stroke="#111" stroke-width="0.35">*</text>
<text x="52" y="371.7" font-size="7.9" font-weight="bold" text-anchor="start" fill="#111" textLength="35" lengthAdjust="spacingAndGlyphs" >LTR-HSC</text>
<text x="117" y="371.7" font-size="7.9" font-weight="bold" text-anchor="start" fill="#111" textLength="35" lengthAdjust="spacingAndGlyphs" >STR-HSC</text>
<text x="16.6" y="318.2" font-size="7.3" font-weight="bold" text-anchor="start" fill="#111" textLength="42.2" lengthAdjust="spacingAndGlyphs" transform="rotate(-90 16.6 318.2)" stroke="#111" stroke-width="0.15" >Fold change</text>
<rect x="92.40" y="263.40" width="6.00" height="6.40" fill="#fff" stroke="#444" stroke-width="0.9"/>
<rect x="92.00" y="279.30" width="6.80" height="7.10" fill="#000"/>
<text x="101.3" y="268.9" font-size="6.8" font-weight="bold" text-anchor="start" fill="#111" textLength="26.4" lengthAdjust="spacingAndGlyphs" stroke="#111" stroke-width="0.1" >24 Hours</text>
<text x="101.3" y="285.1" font-size="6.8" font-weight="bold" text-anchor="start" fill="#111" textLength="26.4" lengthAdjust="spacingAndGlyphs" stroke="#111" stroke-width="0.1" >48 Hours</text>
<line x1="216.6" y1="235" x2="216.6" y2="359.5" stroke="#787878" stroke-width="1.0"/>
<line x1="216.2" y1="336.8" x2="338.6" y2="336.8" stroke="#787878" stroke-width="1.0"/>
<line x1="216.2" y1="359.5" x2="338.8" y2="359.5" stroke="#787878" stroke-width="1.0"/>
<line x1="213.3" y1="359.1" x2="216.6" y2="359.1" stroke="#787878" stroke-width="0.9"/>
<text x="207.6" y="361.8" font-size="6.7" font-weight="bold" text-anchor="end" fill="#111" textLength="11.6" lengthAdjust="spacingAndGlyphs" stroke="#111" stroke-width="0.2" >-1.0</text>
<line x1="213.3" y1="347.85" x2="216.6" y2="347.85" stroke="#787878" stroke-width="0.9"/>
<text x="207.6" y="350.55" font-size="6.7" font-weight="bold" text-anchor="end" fill="#111" textLength="11.6" lengthAdjust="spacingAndGlyphs" stroke="#111" stroke-width="0.2" >-0.5</text>
<line x1="213.3" y1="336.6" x2="216.6" y2="336.6" stroke="#787878" stroke-width="0.9"/>
<text x="207.6" y="339.3" font-size="6.7" font-weight="bold" text-anchor="end" fill="#111" textLength="3.6" lengthAdjust="spacingAndGlyphs" stroke="#111" stroke-width="0.2" >0</text>
<line x1="213.3" y1="325.35" x2="216.6" y2="325.35" stroke="#787878" stroke-width="0.9"/>
<text x="207.6" y="328.05" font-size="6.7" font-weight="bold" text-anchor="end" fill="#111" textLength="9.4" lengthAdjust="spacingAndGlyphs" stroke="#111" stroke-width="0.2" >0.5</text>
<line x1="213.3" y1="314.1" x2="216.6" y2="314.1" stroke="#787878" stroke-width="0.9"/>
<text x="207.6" y="316.8" font-size="6.7" font-weight="bold" text-anchor="end" fill="#111" textLength="9.4" lengthAdjust="spacingAndGlyphs" stroke="#111" stroke-width="0.2" >1.0</text>
<line x1="213.3" y1="302.85" x2="216.6" y2="302.85" stroke="#787878" stroke-width="0.9"/>
<text x="207.6" y="305.55" font-size="6.7" font-weight="bold" text-anchor="end" fill="#111" textLength="9.4" lengthAdjust="spacingAndGlyphs" stroke="#111" stroke-width="0.2" >1.5</text>
<line x1="213.3" y1="291.6" x2="216.6" y2="291.6" stroke="#787878" stroke-width="0.9"/>
<text x="207.6" y="294.3" font-size="6.7" font-weight="bold" text-anchor="end" fill="#111" textLength="9.4" lengthAdjust="spacingAndGlyphs" stroke="#111" stroke-width="0.2" >2.0</text>
<line x1="213.3" y1="280.35" x2="216.6" y2="280.35" stroke="#787878" stroke-width="0.9"/>
<text x="207.6" y="283.05" font-size="6.7" font-weight="bold" text-anchor="end" fill="#111" textLength="9.4" lengthAdjust="spacingAndGlyphs" stroke="#111" stroke-width="0.2" >2.5</text>
<line x1="213.3" y1="269.1" x2="216.6" y2="269.1" stroke="#787878" stroke-width="0.9"/>
<text x="207.6" y="271.8" font-size="6.7" font-weight="bold" text-anchor="end" fill="#111" textLength="9.4" lengthAdjust="spacingAndGlyphs" stroke="#111" stroke-width="0.2" >3.0</text>
<line x1="213.3" y1="257.85" x2="216.6" y2="257.85" stroke="#787878" stroke-width="0.9"/>
<text x="207.6" y="260.55" font-size="6.7" font-weight="bold" text-anchor="end" fill="#111" textLength="9.4" lengthAdjust="spacingAndGlyphs" stroke="#111" stroke-width="0.2" >3.5</text>
<line x1="213.3" y1="246.60000000000002" x2="216.6" y2="246.60000000000002" stroke="#787878" stroke-width="0.9"/>
<text x="207.6" y="249.3" font-size="6.7" font-weight="bold" text-anchor="end" fill="#111" textLength="9.4" lengthAdjust="spacingAndGlyphs" stroke="#111" stroke-width="0.2" >4.0</text>
<line x1="213.3" y1="235.35000000000002" x2="216.6" y2="235.35000000000002" stroke="#787878" stroke-width="0.9"/>
<text x="207.6" y="238.05" font-size="6.7" font-weight="bold" text-anchor="end" fill="#111" textLength="9.4" lengthAdjust="spacingAndGlyphs" stroke="#111" stroke-width="0.2" >4.5</text>
<line x1="247.3" y1="247.3" x2="247.3" y2="262" stroke="#333" stroke-width="1.0"/>
<line x1="246.70000000000002" y1="247.3" x2="247.9" y2="247.3" stroke="#333" stroke-width="1.0"/>
<rect x="234.10" y="261.80" width="26.00" height="75.10" fill="#000"/>
<rect x="295.90" y="336.30" width="25.30" height="9.30" fill="#000"/>
<line x1="308.4" y1="348.8" x2="308.4" y2="345" stroke="#333" stroke-width="0.9"/>
<line x1="307.59999999999997" y1="348.8" x2="309.2" y2="348.8" stroke="#333" stroke-width="0.9"/>
<text x="247.15" y="244.27" font-size="6.22" font-weight="bold" text-anchor="middle" fill="#111" stroke="#111" stroke-width="0.35">*</text>
<text x="307.90" y="328.30" font-size="7.84" font-weight="bold" text-anchor="middle" fill="#444" stroke="#444" stroke-width="0.15">*</text>
<text x="231.5" y="372.4" font-size="7.3" font-weight="bold" text-anchor="start" fill="#111" textLength="33.8" lengthAdjust="spacingAndGlyphs" stroke="#111" stroke-width="0.12" >LSK CD34-</text>
<text x="292.1" y="372.4" font-size="7.3" font-weight="bold" text-anchor="start" fill="#111" textLength="35.0" lengthAdjust="spacingAndGlyphs" stroke="#111" stroke-width="0.12" >LSK CD34+</text>
<text x="192.3" y="319.6" font-size="7.2" font-weight="bold" text-anchor="start" fill="#111" textLength="42.9" lengthAdjust="spacingAndGlyphs" transform="rotate(-90 192.3 319.6)" stroke="#111" stroke-width="0.15" >Fold Change</text>
<line x1="387.35" y1="232.5" x2="387.35" y2="359.3" stroke="#787878" stroke-width="1.0"/>
<line x1="386.5" y1="334.20000000000005" x2="511.0" y2="334.20000000000005" stroke="#787878" stroke-width="1.0"/>
<line x1="386.5" y1="359.3" x2="509.5" y2="359.3" stroke="#787878" stroke-width="1.0"/>
<line x1="383.7" y1="359.40000000000003" x2="387.35" y2="359.40000000000003" stroke="#787878" stroke-width="0.9"/>
<text x="379.8" y="361.70000000000005" font-size="6.5" font-weight="bold" text-anchor="end" fill="#111" textLength="11.6" lengthAdjust="spacingAndGlyphs" stroke="#111" stroke-width="0.2" >-1.0</text>
<line x1="383.7" y1="346.75" x2="387.35" y2="346.75" stroke="#787878" stroke-width="0.9"/>
<text x="379.8" y="349.05" font-size="6.5" font-weight="bold" text-anchor="end" fill="#111" textLength="11.6" lengthAdjust="spacingAndGlyphs" stroke="#111" stroke-width="0.2" >-0.5</text>
<line x1="383.7" y1="334.1" x2="387.35" y2="334.1" stroke="#787878" stroke-width="0.9"/>
<text x="379.8" y="336.40000000000003" font-size="6.5" font-weight="bold" text-anchor="end" fill="#111" textLength="3.6" lengthAdjust="spacingAndGlyphs" stroke="#111" stroke-width="0.2" >0</text>
<line x1="383.7" y1="321.45000000000005" x2="387.35" y2="321.45000000000005" stroke="#787878" stroke-width="0.9"/>
<text x="379.8" y="323.75000000000006" font-size="6.5" font-weight="bold" text-anchor="end" fill="#111" textLength="9.4" lengthAdjust="spacingAndGlyphs" stroke="#111" stroke-width="0.2" >0.5</text>
<line x1="383.7" y1="308.8" x2="387.35" y2="308.8" stroke="#787878" stroke-width="0.9"/>
<text x="379.8" y="311.1" font-size="6.5" font-weight="bold" text-anchor="end" fill="#111" textLength="9.4" lengthAdjust="spacingAndGlyphs" stroke="#111" stroke-width="0.2" >1.0</text>
<line x1="383.7" y1="296.15000000000003" x2="387.35" y2="296.15000000000003" stroke="#787878" stroke-width="0.9"/>
<text x="379.8" y="298.45000000000005" font-size="6.5" font-weight="bold" text-anchor="end" fill="#111" textLength="9.4" lengthAdjust="spacingAndGlyphs" stroke="#111" stroke-width="0.2" >1.5</text>
<line x1="383.7" y1="283.5" x2="387.35" y2="283.5" stroke="#787878" stroke-width="0.9"/>
<text x="379.8" y="285.8" font-size="6.5" font-weight="bold" text-anchor="end" fill="#111" textLength="9.4" lengthAdjust="spacingAndGlyphs" stroke="#111" stroke-width="0.2" >2.0</text>
<line x1="383.7" y1="270.85" x2="387.35" y2="270.85" stroke="#787878" stroke-width="0.9"/>
<text x="379.8" y="273.15000000000003" font-size="6.5" font-weight="bold" text-anchor="end" fill="#111" textLength="9.4" lengthAdjust="spacingAndGlyphs" stroke="#111" stroke-width="0.2" >2.5</text>
<line x1="383.7" y1="258.20000000000005" x2="387.35" y2="258.20000000000005" stroke="#787878" stroke-width="0.9"/>
<text x="379.8" y="260.50000000000006" font-size="6.5" font-weight="bold" text-anchor="end" fill="#111" textLength="9.4" lengthAdjust="spacingAndGlyphs" stroke="#111" stroke-width="0.2" >3.0</text>
<line x1="383.7" y1="245.55" x2="387.35" y2="245.55" stroke="#787878" stroke-width="0.9"/>
<text x="379.8" y="247.85000000000002" font-size="6.5" font-weight="bold" text-anchor="end" fill="#111" textLength="9.4" lengthAdjust="spacingAndGlyphs" stroke="#111" stroke-width="0.2" >3.5</text>
<line x1="383.7" y1="232.90000000000003" x2="387.35" y2="232.90000000000003" stroke="#787878" stroke-width="0.9"/>
<text x="379.8" y="235.20000000000005" font-size="6.5" font-weight="bold" text-anchor="end" fill="#111" textLength="9.4" lengthAdjust="spacingAndGlyphs" stroke="#111" stroke-width="0.2" >4.0</text>
<rect x="393.90" y="333.20" width="11.20" height="1.20" fill="#555"/>
<line x1="399.9" y1="325.1" x2="399.9" y2="342.3" stroke="#333" stroke-width="0.8"/>
<line x1="399.0" y1="325.1" x2="400.79999999999995" y2="325.1" stroke="#333" stroke-width="0.8"/>
<line x1="399.0" y1="342.3" x2="400.79999999999995" y2="342.3" stroke="#333" stroke-width="0.8"/>
<rect x="405.10" y="249.40" width="11.30" height="85.00" fill="#000"/>
<line x1="408.5" y1="249.2" x2="413" y2="249.2" stroke="#000" stroke-width="0.8"/>
<rect x="416.40" y="334.10" width="11.20" height="6.70" fill="#4a4a4a" stroke="#222" stroke-width="0.6"/>
<line x1="421.3" y1="348.3" x2="421.3" y2="335" stroke="#222" stroke-width="0.8"/>
<line x1="420.40000000000003" y1="348.3" x2="422.2" y2="348.3" stroke="#222" stroke-width="0.8"/>
<rect x="428.00" y="315.60" width="10.30" height="18.50" fill="#c6c6c6" stroke="#333" stroke-width="0.9"/>
<line x1="432.4" y1="292.3" x2="432.4" y2="337.7" stroke="#333" stroke-width="0.8"/>
<line x1="431.5" y1="292.3" x2="433.29999999999995" y2="292.3" stroke="#333" stroke-width="0.8"/>
<line x1="431.5" y1="337.7" x2="433.29999999999995" y2="337.7" stroke="#333" stroke-width="0.8"/>
<polyline points="410.9,244.8 410.9,236.7 432.5,236.7 432.5,279.7" fill="none" stroke="#2a2a2a" stroke-width="1.0"/>
<text x="418.00" y="237.66" font-size="11.89" font-weight="bold" text-anchor="middle" fill="#222" stroke="#222" stroke-width="0">*</text>
<text x="424.80" y="237.66" font-size="11.89" font-weight="bold" text-anchor="middle" fill="#222" stroke="#222" stroke-width="0">*</text>
<rect x="453.70" y="333.30" width="11.20" height="1.30" fill="#555"/>
<line x1="459.5" y1="332.6" x2="459.5" y2="335.4" stroke="#333" stroke-width="0.9"/>
<rect x="464.90" y="333.80" width="11.20" height="10.80" fill="#000"/>
<line x1="470.3" y1="346.7" x2="470.3" y2="344" stroke="#333" stroke-width="0.8"/>
<line x1="469.40000000000003" y1="346.7" x2="471.2" y2="346.7" stroke="#333" stroke-width="0.8"/>
<rect x="476.10" y="334.10" width="10.80" height="4.70" fill="#555" stroke="#222" stroke-width="0.6"/>
<line x1="481.4" y1="342.4" x2="481.4" y2="335.2" stroke="#222" stroke-width="0.8"/>
<line x1="480.09999999999997" y1="342.4" x2="482.7" y2="342.4" stroke="#222" stroke-width="0.8"/>
<line x1="480.09999999999997" y1="335.2" x2="482.7" y2="335.2" stroke="#222" stroke-width="0.8"/>
<rect x="487.30" y="334.10" width="10.10" height="15.20" fill="#c6c6c6" stroke="#333" stroke-width="0.9"/>
<line x1="490.5" y1="350.1" x2="494" y2="350.1" stroke="#333" stroke-width="0.7"/>
<text x="401.2" y="371.8" font-size="7.3" font-weight="bold" text-anchor="start" fill="#111" textLength="33.8" lengthAdjust="spacingAndGlyphs" stroke="#111" stroke-width="0.12" >LSK CD34-</text>
<text x="460.9" y="371.8" font-size="7.3" font-weight="bold" text-anchor="start" fill="#111" textLength="34.7" lengthAdjust="spacingAndGlyphs" stroke="#111" stroke-width="0.12" >LSK CD34+</text>
<text x="364.5" y="307.0" font-size="7.4" font-weight="bold" text-anchor="start" fill="#111" textLength="42.7" lengthAdjust="spacingAndGlyphs" transform="rotate(-90 364.5 307.0)" stroke="#111" stroke-width="0.18" >Fold change</text>
<rect x="447.50" y="234.40" width="6.70" height="6.90" fill="#fff" stroke="#444" stroke-width="0.9"/>
<rect x="447.10" y="250.20" width="7.50" height="7.50" fill="#000"/>
<rect x="447.30" y="266.90" width="7.10" height="7.10" fill="#484848" stroke="#222" stroke-width="0.5"/>
<rect x="447.50" y="283.60" width="6.70" height="6.40" fill="#cacaca" stroke="#444" stroke-width="0.9"/>
<text x="458.2" y="240.4" font-size="7.0" font-weight="bold" text-anchor="start" fill="#111" textLength="34.2" lengthAdjust="spacingAndGlyphs" stroke="#111" stroke-width="0.1" >EtOH+DPBS</text>
<text x="458.2" y="256.8" font-size="7.0" font-weight="bold" text-anchor="start" fill="#111" textLength="39.6" lengthAdjust="spacingAndGlyphs" stroke="#111" stroke-width="0.1" >EtOH+NXPH1</text>
<text x="458.2" y="273.3" font-size="7.0" font-weight="bold" text-anchor="start" fill="#111" textLength="52.0" lengthAdjust="spacingAndGlyphs" stroke="#111" stroke-width="0.1" >Rapamycin+DPBS</text>
<text x="458.2" y="289.6" font-size="7.0" font-weight="bold" text-anchor="start" fill="#111" textLength="57.1" lengthAdjust="spacingAndGlyphs" stroke="#111" stroke-width="0.1" >Rapamycin+NXPH1</text>
</svg>
</body></html>
